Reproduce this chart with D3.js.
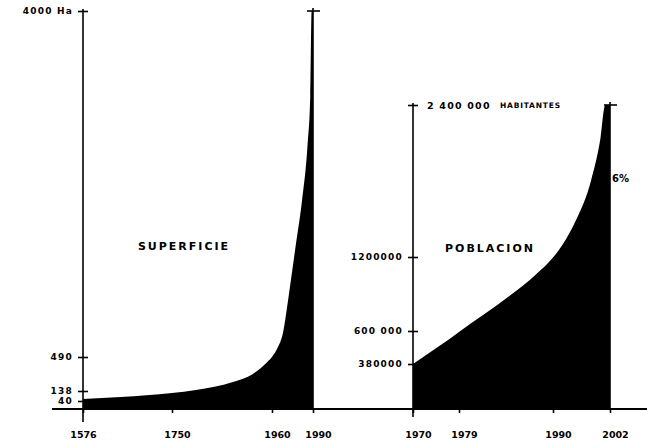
<!DOCTYPE html>
<html>
<head>
<meta charset="utf-8">
<script src="https://cdn.jsdelivr.net/npm/d3@7"></script>
<style>
  html, body { margin: 0; padding: 0; background: #fff; }
  text { font-family: "DejaVu Sans", sans-serif; font-weight: bold; fill: #000; }
</style>
</head>
<body>
<svg id="chart" width="647" height="443"></svg>
<script>
// superficie (Ha)
const supYears  = [1576, 1650, 1750, 1800, 1878, 1920, 1950, 1960, 1964, 1968, 1972, 1977, 1982, 1986, 1988, 1989, 1990];
const supValues = [60, 79, 118, 148, 231, 314, 438, 490, 581, 733, 1089, 1586, 2083, 2641, 3148, 4000, 4000];
const supTicksX = [1576, 1750, 1960, 1990];
const supTicksY = [40, 138, 490, 4000];

// poblacion (habitantes)
const pobYears  = [1970, 1975, 1979, 1985, 1988, 1990, 1992, 1995, 1998, 2000, 2001, 2002];
const pobValues = [380000, 496000, 594000, 889000, 1058000, 1196000, 1297000, 1503000, 1802000, 2140000, 2400000, 2400000];
const pobTicksX = [1970, 1979, 1990, 2002];
const pobTicksY = [380000, 600000, 1200000, 2400000];
const pobLabels = ["380000", "600 000", "1200000", "2 400 000"];

const svg = d3.select("#chart");
svg.append("rect").attr("width", 647).attr("height", 443).attr("fill", "#fff");

const BASE = 409;

// hand drawn axes are not evenly spaced, so the scales are piecewise
const xSup = d3.scaleLinear().domain(supTicksX).range([83, 172, 272, 313]);
const ySup = d3.scaleLinear().domain([0, ...supTicksY]).range([BASE, 401, 391, 357, 11]);
const xPob = d3.scaleLinear().domain(pobTicksX).range([413, 459, 553, 610]);
const yPob = d3.scaleLinear().domain([0, ...pobTicksY]).range([BASE, 364, 331, 257, 105]);

const supData = supYears.map((y, i) => ({year: y, value: supValues[i]}));
const pobData = pobYears.map((y, i) => ({year: y, value: pobValues[i]}));

function drawArea(data, x, y) {
    const area = d3.area()
        .x(d => x(d.year))
        .y0(y(0))
        .y1(d => y(d.value))
        .curve(d3.curveMonotoneX);
    svg.append("path").datum(data).attr("d", area).attr("fill", "#000");
}

drawArea(supData, xSup, ySup);
drawArea(pobData, xPob, yPob);

// long baseline under both charts
svg.append("line")
    .attr("x1", 52).attr("x2", 647).attr("y1", BASE).attr("y2", BASE)
    .attr("stroke", "#000").attr("stroke-width", 2);

function yAxis(x, scale, ticks, fmt, bottom) {
    svg.append("line")
        .attr("x1", x).attr("x2", x)
        .attr("y1", scale(ticks[ticks.length - 1]) - 2).attr("y2", bottom)
        .attr("stroke", "#000").attr("stroke-width", 1.6);

    const g = svg.append("g")
        .attr("transform", `translate(${x},0)`)
        .call(d3.axisLeft(scale).tickValues(ticks).tickFormat(fmt).tickSize(5).tickPadding(5));
    g.select(".domain").remove();
    g.selectAll(".tick line").attr("x1", 5).attr("stroke-width", 1.6);
    g.selectAll(".tick text")
        .attr("font-family", "DejaVu Sans")
        .attr("font-size", 9)
        .attr("letter-spacing", 1.2);
    return g;
}

function xAxis(scale, ticks) {
    const g = svg.append("g")
        .attr("transform", `translate(0,${BASE})`)
        .call(d3.axisBottom(scale).tickValues(ticks).tickFormat(d3.format("d")).tickSize(4).tickPadding(18));
    g.select(".domain").remove();
    g.selectAll(".tick line").attr("stroke-width", 1.6);
    g.selectAll(".tick text")
        .attr("font-family", "DejaVu Sans")
        .attr("font-size", 9.5)
        .attr("dx", d => d === 1576 ? 0 : 5);
}

// superficie axes
yAxis(83, ySup, supTicksY, d => d === 4000 ? "4000  Ha" : d, 422);
xAxis(xSup, supTicksX);

// poblacion axes
const gp = yAxis(413, yPob, pobTicksY, (d, i) => pobLabels[i], 417);
gp.selectAll(".tick text")
    .filter(d => d === 2400000)
    .attr("x", 14)
    .attr("text-anchor", "start")
    .attr("font-size", 9.5);
xAxis(xPob, pobTicksX);

svg.append("text")
    .attr("x", 500).attr("y", yPob(2400000) + 3)
    .attr("font-size", 7.5).attr("letter-spacing", 0.8)
    .text("HABITANTES");

// end markers at the top of each series
function endMark(x, y) {
    svg.append("line").attr("x1", x - 6).attr("x2", x + 7).attr("y1", y).attr("y2", y)
        .attr("stroke", "#000").attr("stroke-width", 1.6);
    svg.append("line").attr("x1", x).attr("x2", x).attr("y1", y - 3).attr("y2", BASE)
        .attr("stroke", "#000").attr("stroke-width", 1.6);
}
endMark(xSup(1990), ySup(4000));
endMark(xPob(2002), yPob(2400000));

// titles
svg.append("text")
    .attr("x", 184).attr("y", 250)
    .attr("text-anchor", "middle")
    .attr("font-size", 11).attr("letter-spacing", 2)
    .text("SUPERFICIE");

svg.append("text")
    .attr("x", 490).attr("y", 252)
    .attr("text-anchor", "middle")
    .attr("font-size", 11).attr("letter-spacing", 2)
    .text("POBLACION");

svg.append("text")
    .attr("x", 612).attr("y", 182)
    .attr("font-size", 10)
    .text("6%");
</script>
</body>
</html>
